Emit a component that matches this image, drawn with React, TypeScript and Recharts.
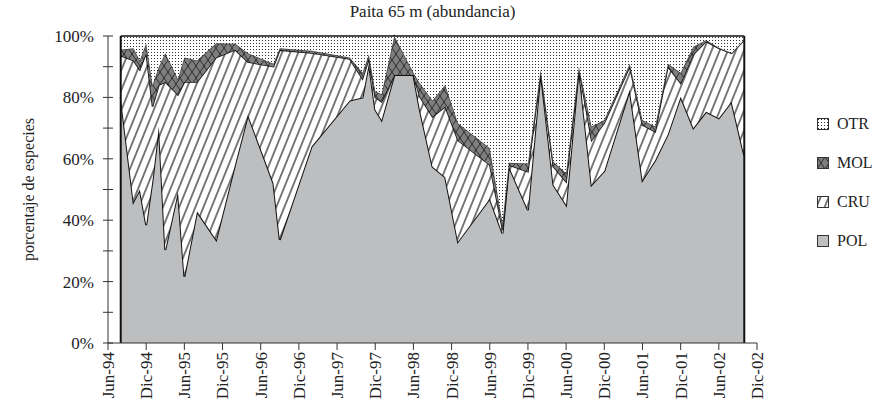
import { Area, AreaChart, Legend, ReferenceLine, XAxis, YAxis } from "recharts";

// months counted from Jun-94
const months = [
  2, 4, 5, 6, 7, 8, 9, 11, 12, 14, 17, 20, 22, 26, 27, 32, 38, 40, 41, 42, 43, 45, 48, 49, 51, 53, 55,
  60, 62, 63, 66, 68, 70, 72, 74, 76, 78, 82, 84, 86, 88, 90, 92, 94, 96, 98, 100,
];
const pol = [
  80, 46, 50, 38.4, 53, 70.5, 30.3, 49.3, 21.6, 42.8, 33.6, 58.3, 74.3, 52, 33.6, 64, 79, 80, 91, 76,
  72.6, 87.3, 87.3, 76, 57.4, 54, 33, 47, 35.7, 57.5, 43.3, 88.4, 51.5, 45, 89.5, 51.5, 56, 82.4, 53,
  59.5, 68, 80.2, 70, 75.3, 73.2, 78.6, 61,
];
const cru = [
  13.6, 46, 39, 56, 24, 13.5, 54.7, 31.5, 63.4, 42.2, 59.4, 37.2, 17.2, 38, 61.8, 30.5, 13.5, 6, 1.5,
  4, 6, 0, 0, 4.2, 16.3, 23, 33, 11, 1.3, 0.5, 12.5, 0.1, 5.9, 7.5, 0, 14.5, 15.6, 7.6, 18, 9.3, 22,
  4.4, 24, 22.9, 22.8, 15.8, 37.7,
];
const mol = [
  1.9, 4, 3, 3.2, 7, 6, 9.4, 5.2, 8, 7, 4.6, 2, 2.9, 1, 0.6, 0.7, 0.5, 2, 1.5, 2, 2.4, 12.7, 0.7, 4.4,
  5.3, 7, 5.6, 5.4, 2, 0.7, 2.7, 0.5, 1.6, 2.8, 0.5, 4.5, 1, 1, 1.6, 1.7, 1, 3.4, 2.5, 0.5, 0.2, 0.1,
  0.1,
];
const otr = [
  4.5, 4, 8, 2.4, 16, 10, 5.6, 14, 7, 8, 2.4, 2.5, 5.6, 9, 4, 4.8, 7, 12, 6, 18, 19, 0, 12, 15.4, 21,
  16, 28.4, 36.6, 61, 41.3, 41.5, 11, 41, 44.7, 10, 29.5, 27.4, 9, 27.4, 29.5, 9, 12, 3.5, 1.3, 3.8,
  5.5, 1.2,
];

const xTicks = [0, 6, 12, 18, 24, 30, 36, 42, 48, 54, 60, 66, 72, 78, 84, 90, 96, 102];
const xLabels = [
  "Jun-94", "Dic-94", "Jun-95", "Dic-95", "Jun-96", "Dic-96", "Jun-97", "Dic-97", "Jun-98",
  "Dic-98", "Jun-99", "Dic-99", "Jun-00", "Dic-00", "Jun-01", "Dic-01", "Jun-02", "Dic-02",
];
const yTicks = [0, 10, 20, 30, 40, 50, 60, 70, 80, 90, 100];

const data = months.map((m, i) => ({ m, POL: pol[i], CRU: cru[i], MOL: mol[i], OTR: otr[i] }));

const FONT = "'Liberation Serif', 'DejaVu Serif', serif";

const legendItems = [
  { name: "OTR", fill: "url(#dots)" },
  { name: "MOL", fill: "url(#cross)" },
  { name: "CRU", fill: "url(#hatch)" },
  { name: "POL", fill: "#bdbec0" },
];

const Patterns = () => (
  <svg width={0} height={0} style={{ position: "absolute" }}>
    <defs>
      <pattern id="dots" width={3} height={3} patternUnits="userSpaceOnUse">
        <rect width={3} height={3} fill="#fff" />
        <rect x={1} y={1} width={1} height={1} fill="#333" />
      </pattern>
      <pattern id="hatch" width={7.5} height={10} patternUnits="userSpaceOnUse" patternTransform="rotate(22)">
        <rect width={7.5} height={10} fill="#fff" />
        <line x1={3.75} y1={0} x2={3.75} y2={10} stroke="#111" strokeWidth={1.1} />
      </pattern>
      <pattern id="cross" width={8} height={12} patternUnits="userSpaceOnUse">
        <rect width={8} height={12} fill="#7f7f7f" />
        <line x1={0} y1={0} x2={8} y2={12} stroke="#222" strokeWidth={0.9} />
        <line x1={8} y1={0} x2={0} y2={12} stroke="#222" strokeWidth={0.9} />
      </pattern>
    </defs>
  </svg>
);

const LegendBox = () => (
  <div style={{ fontFamily: FONT, fontSize: 16, color: "#222" }}>
    {legendItems.map((it) => (
      <div key={it.name} style={{ display: "flex", alignItems: "center", height: 39 }}>
        <svg width={12} height={12} style={{ marginRight: 8 }}>
          <rect x={0.5} y={0.5} width={11} height={11} fill={it.fill} stroke="#333" />
        </svg>
        <span>{it.name}</span>
      </div>
    ))}
  </div>
);

const XTick = ({ x, y, payload }: any) => {
  const label = xLabels[xTicks.indexOf(payload.value)];
  return (
    <text
      transform={`translate(${x},${y}) rotate(-90)`}
      textAnchor="end"
      dy="0.35em"
      fontFamily={FONT}
      fontSize={17}
      fill="#222"
    >
      {label}
    </text>
  );
};

const YTick = ({ x, y, payload }: any) => (
  <g>
    <line x1={x + 9} x2={x + 19} y1={y} y2={y} stroke="#333" />
    {payload.value % 20 === 0 && (
      <text x={x} y={y} dy="0.35em" textAnchor="end" fontFamily={FONT} fontSize={17} fill="#222">
        {payload.value}%
      </text>
    )}
  </g>
);

const YLabel = ({ viewBox }: any) => {
  const cx = viewBox.x + 28;
  const cy = viewBox.y + viewBox.height / 2;
  return (
    <text
      transform={`translate(${cx},${cy}) rotate(-90)`}
      textAnchor="middle"
      dy="0.35em"
      fontFamily={FONT}
      fontSize={16}
      fill="#222"
    >
      porcentaje de especies
    </text>
  );
};

export default function App() {
  return (
    <div style={{ position: "absolute", left: 0, top: 0, width: 885, height: 408, background: "#fff" }}>
      <Patterns />
      <div
        style={{
          position: "absolute",
          left: 108,
          width: 649,
          top: 2,
          textAlign: "center",
          fontFamily: FONT,
          fontSize: 17,
          color: "#222",
        }}
      >
        Paita 65 m (abundancia)
      </div>
      <AreaChart width={885} height={408} data={data} margin={{ top: 36, right: 128, bottom: 0, left: 0 }}>
        <XAxis
          dataKey="m"
          type="number"
          domain={[0, 102]}
          ticks={xTicks}
          interval={0}
          height={65}
          tickSize={7}
          tickMargin={2}
          tick={<XTick />}
          stroke="#333"
        />
        <YAxis
          type="number"
          domain={[0, 100]}
          ticks={yTicks}
          interval={0}
          width={108}
          tickSize={5}
          tickMargin={9}
          tickLine={false}
          tick={<YTick />}
          stroke="#333"
          label={<YLabel />}
        />
        <Area type="linear" dataKey="POL" stackId="1" fill="#bdbec0" fillOpacity={1} stroke="#111" strokeWidth={2} isAnimationActive={false} />
        <Area type="linear" dataKey="CRU" stackId="1" fill="url(#hatch)" fillOpacity={1} stroke="#111" strokeWidth={1.6} isAnimationActive={false} />
        <Area type="linear" dataKey="MOL" stackId="1" fill="url(#cross)" fillOpacity={1} stroke="#444" strokeWidth={1.4} isAnimationActive={false} />
        <Area type="linear" dataKey="OTR" stackId="1" fill="url(#dots)" fillOpacity={1} stroke="#111" strokeWidth={1.6} isAnimationActive={false} />
        <ReferenceLine x={months[0]} stroke="#111" strokeWidth={2} />
        <ReferenceLine x={months[months.length - 1]} stroke="#111" strokeWidth={2} />
        <Legend
          layout="vertical"
          align="center"
          verticalAlign="middle"
          content={<LegendBox />}
          wrapperStyle={{ left: 817, top: 104, width: 68 }}
        />
      </AreaChart>
    </div>
  );
}
